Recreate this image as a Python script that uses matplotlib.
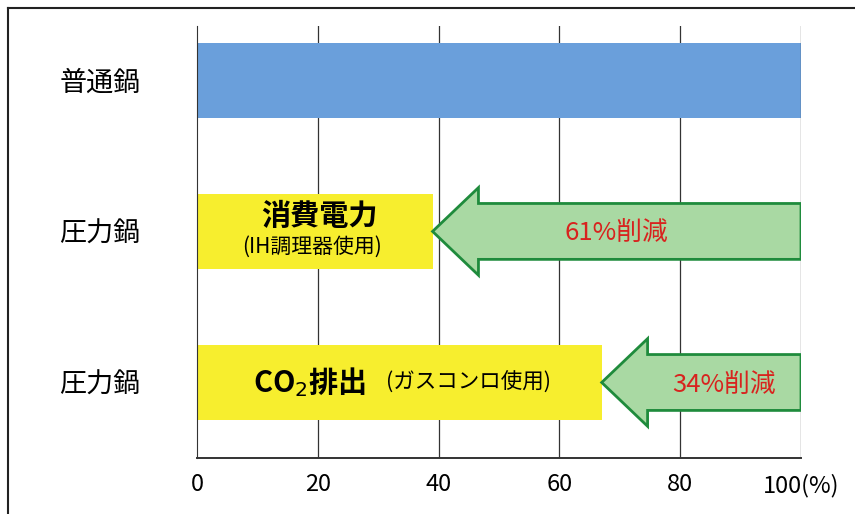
import matplotlib.pyplot as plt
from matplotlib.patches import FancyArrow
from matplotlib.lines import Line2D

plt.rcParams['font.family'] = ['Noto Sans CJK JP', 'DejaVu Sans']

# データ
pots = ['普通鍋', '圧力鍋', '圧力鍋']
values = [100, 39, 67]
bar_colors = ['#6a9fdb', '#f7ee2e', '#f7ee2e']
reduction_labels = ['', '61%削減', '34%削減']
xticks = [0, 20, 40, 60, 80, 100]
xtick_labels = ['0', '20', '40', '60', '80', '100(%)']

# 矢印の中の文字の位置（見た目合わせ）
label_x = [0, 69.5, 87.2]

fig = plt.figure(figsize=(8.55, 5.14), dpi=100)
W, H = 855, 514
ax = fig.add_axes([197/W, 1-458/H, (801-197)/W, (458-26)/H])

ys = list(range(len(pots)))
ax.barh(ys, values, height=0.5, color=bar_colors, zorder=2)

# 縦の目盛線
for x in xticks[1:-1]:
    ax.axvline(x, color='#333333', lw=0.9, zorder=1)
ax.axvline(100, color='#333333', lw=0.9, zorder=3)

# 削減の矢印
hl = 7.6
for y, v, lab, lx in zip(ys, values, reduction_labels, label_x):
    if not lab:
        continue
    arr = FancyArrow(100, y, v-100, 0, width=0.37, head_width=0.58,
                     head_length=hl, length_includes_head=True,
                     facecolor='#a9d9a3', edgecolor='#1f8b3c', lw=2, zorder=4)
    ax.add_patch(arr)
    ax.text(lx, y + 0.02, lab, color='#d8231e', fontsize=18.5, ha='center', va='center', zorder=5)

# 黄色バーの中の文字
ax.text(20.2, 0.9, '消費電力', fontsize=21, fontweight='bold', ha='center', va='center', zorder=5)
ax.text(19, 1.1, '(IH調理器使用)', fontsize=15, ha='center', va='center', zorder=5)
ax.text(9.3, 2.0, 'CO$_2$排出', fontsize=21, fontweight='bold', ha='left', va='center', zorder=5)
ax.text(31.3, 2.0, '(ガスコンロ使用)', fontsize=15.5, ha='left', va='center', zorder=5)

ax.set_xlim(0, 100)
ax.set_ylim(2.5, -0.36)
ax.set_yticks(ys)
ax.set_yticklabels(pots, fontsize=19.5)
ax.set_xticks(xticks)
ax.set_xticklabels(xtick_labels, fontsize=17)
ax.tick_params(axis='y', length=0, pad=99)
ax.tick_params(axis='x', length=0, pad=11)
for lab in ax.get_yticklabels():
    lab.set_horizontalalignment('left')
for s in ['top', 'right']:
    ax.spines[s].set_visible(False)
ax.spines['left'].set_zorder(3)
ax.spines['left'].set_color('#333333')
ax.spines['bottom'].set_color('#333333')
ax.spines['bottom'].set_linewidth(1.4)

# 外枠
fig.add_artist(Line2D([8/W, 8/W], [0, 1-8/H], color='#222222', lw=1.5))
fig.add_artist(Line2D([8/W, 1], [1-8/H, 1-8/H], color='#222222', lw=1.5))

fig.savefig('out.png', dpi=100)
